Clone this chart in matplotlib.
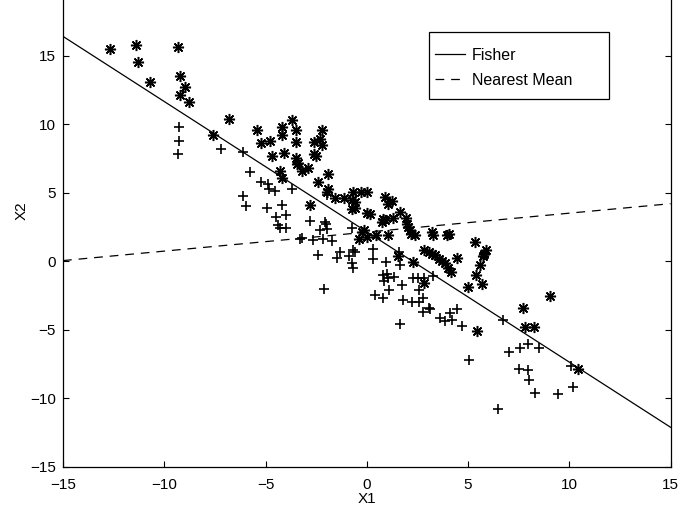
import matplotlib
matplotlib.use('Agg')
import matplotlib.pyplot as plt
from matplotlib.patches import Rectangle

# class 1 (asterisks)
star_x = [-12.7, -11.4, -11.3, -10.7, -9.3, -9.2, -9.0, -9.2, -8.8, -7.6, -6.8,
          -5.4, -5.2, -4.8, -4.7, -4.3, -4.2, -3.7, -4.2, -3.5, -2.2, -3.5, -4.1,
          -2.6, -2.3, -2.2, -2.6, -2.5, -3.5, -3.4, -3.45, -2.9, -3.2, -4.2, -1.9,
          -2.4, -1.9, -1.95, -1.55, -1.1, -0.7, -0.3, 0.0, -0.75, -0.6, -0.75,
          -0.6, -2.8, 0.0, 0.15, 0.9, 1.25, 1.05, 1.65, 0.8, 0.9, 0.75, 1.3, 1.95,
          2.0, 2.05, 2.15, 2.2, 2.4, -0.15, -0.25, -0.4, 0.0, 0.45, 1.05, 1.55,
          2.3, 3.2, 3.25, 3.95, 4.05, 2.85, 3.05, 3.2, 3.35, 3.55, 3.7, 3.85, 4.0,
          4.15, 4.45, 5.35, 5.9, 5.8, 5.75, 5.6, 5.4, 5.7, 5.0, 2.85, 5.45, 9.05,
          7.7, 7.8, 8.25, 10.45]
star_y = [15.5, 15.8, 14.5, 13.1, 15.6, 13.5, 12.7, 12.1, 11.6, 9.2, 10.4,
          9.6, 8.6, 8.8, 7.7, 6.6, 9.8, 10.3, 9.2, 9.6, 9.6, 8.7, 7.9,
          8.7, 8.9, 8.5, 7.8, 7.7, 7.5, 7.2, 7.1, 6.8, 6.6, 6.1, 6.4,
          5.8, 5.25, 5.05, 4.6, 4.65, 5.05, 5.05, 5.05, 4.5, 4.3, 3.8,
          3.9, 4.1, 3.5, 3.45, 4.7, 4.4, 4.2, 3.6, 3.1, 3.0, 2.9, 3.15, 3.15,
          2.75, 2.5, 2.25, 2.0, 1.9, 2.25, 2.1, 1.6, 1.8, 1.9, 1.9, 0.35,
          -0.05, 2.15, 1.95, 1.95, 2.0, 0.8, 0.7, 0.55, 0.45, 0.2, 0.05, -0.15, -0.5,
          -0.75, 0.25, 1.4, 0.8, 0.55, 0.4, -0.25, -1.0, -1.65, -1.85, -1.55, -5.1, -2.5,
          -3.4, -4.8, -4.8, -7.85]

# class 2 (plus signs)
plus_x = [-9.25, -9.25, -9.3, -7.2, -6.1, -5.75, -6.1, -5.95, -5.2, -4.9, -4.85,
          -4.55, -3.7, -4.95, -4.2, -4.5, -4.0, -4.4, -4.3, -4.0, -2.8, -2.05,
          -2.0, -2.3, -1.95, -3.3, -3.2, -2.65, -2.15, -1.7, -0.75, -1.95, -2.4,
          -1.3, -1.45, -0.9, -0.7, -0.6, -0.75, -0.7, 0.3, 0.3, 1.6, 0.95, 1.65,
          0.8, 1.0, 0.85, 1.05, 1.35, 1.75, 1.1, 0.4, 0.8, 1.8, 2.25, 2.6, 2.8,
          2.6, -2.1, 2.3, 2.55, 2.85, 3.25, 2.8, 3.05, 3.1, 1.65, 3.6, 3.85, 4.1,
          4.2, 4.45, 4.7, 6.75, 7.0, 5.05, 7.55, 7.95, 8.5, 7.5, 7.95, 8.0, 8.3,
          9.45, 10.2, 10.1, 6.5]
plus_y = [9.8, 8.8, 7.8, 8.2, 8.0, 6.5, 4.75, 4.0, 5.8, 5.6, 5.25,
          5.15, 5.25, 3.9, 4.1, 3.25, 3.35, 2.65, 2.4, 2.45, 2.95, 2.9,
          2.75, 2.25, 2.35, 1.6, 1.7, 1.55, 1.65, 1.45, 2.45, 4.8, 0.45,
          0.7, 0.25, 0.4, 0.85, 0.65, -0.1, -0.5, 0.9, 0.2, 0.7, -0.05, -0.3,
          -1.0, -0.9, -1.45, -1.25, -1.15, -1.75, -2.1, -2.45, -2.65, -2.8, -2.95, -2.95, -2.7,
          -2.1, -2.0, -1.2, -1.2, -1.2, -1.05, -3.7, -3.4, -3.5, -4.55, -4.15, -4.35, -3.8,
          -4.3, -3.5, -4.7, -4.3, -6.65, -7.2, -6.3, -6.05, -6.3, -7.85, -7.95, -8.65, -9.6,
          -9.7, -9.2, -7.6, -10.75]

# decision boundaries
fisher_x = [-15, 15]
fisher_y = [16.4, -12.1]
nearest_x = [-15, 15]
nearest_y = [0.05, 4.2]

x_ticks = [-15, -10, -5, 0, 5, 10, 15]
y_ticks = [-15, -10, -5, 0, 5, 10, 15]

plt.rcParams['font.family'] = ['Liberation Sans', 'DejaVu Sans']
plt.rcParams['font.size'] = 11

fig = plt.figure(figsize=(6.78, 5.07), dpi=100)
# top of the axes sits just above the picture, as in the cropped original
ax = fig.add_axes([63 / 678, 40 / 507, 607.5 / 678, 480 / 507])

ax.plot(star_x, star_y, linestyle='none', marker=(8, 2, 0), markersize=8,
        markeredgewidth=1.1, color='black')
ax.plot(plus_x, plus_y, linestyle='none', marker='+', markersize=7,
        markeredgewidth=1.2, color='black')

ax.plot(fisher_x, fisher_y, color='black', linewidth=0.9, label='Fisher')
ax.plot(nearest_x, nearest_y, color='black', linewidth=0.9, dashes=[7, 5.5],
        label='Nearest Mean')

ax.set_xlim(-15, 15)
ax.set_ylim(-15, 20)
ax.set_xticks(x_ticks)
ax.set_yticks(y_ticks)
ax.tick_params(direction='in', length=4.5, width=0.8, right=True,
               top=True, colors='black')
ax.tick_params(axis='y', pad=5)
ax.tick_params(axis='x', pad=8)
for s in ax.spines.values():
    s.set_linewidth(0.9)

ax.set_xlabel('X1', labelpad=0)
ax.set_ylabel('X2')
ax.yaxis.set_label_coords(-0.057, 0.533)

# legend box drawn by hand, entries placed inside it
box = Rectangle((0.6025, 0.7667), 0.2963, 0.1396, transform=ax.transAxes,
                facecolor='white', edgecolor='black', linewidth=0.9, zorder=4)
ax.add_patch(box)
leg = ax.legend(loc='center left', bbox_to_anchor=(0.6123, 0.8313),
                frameon=False, borderpad=0, handlelength=1.85,
                handletextpad=0.45, labelspacing=0.63, borderaxespad=0,
                prop={'size': 11.5})
leg.set_zorder(5)

fig.savefig('out.png', dpi=100)
